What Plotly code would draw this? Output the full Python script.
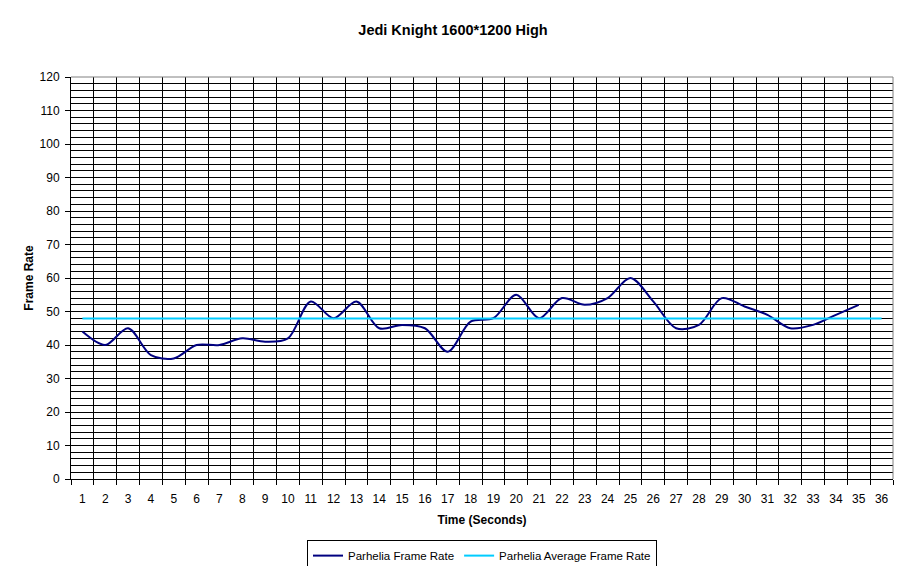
import plotly.graph_objects as go

seconds = list(range(1, 37))
tick_labels = [str(s) for s in seconds]
frame_rate = [44, 40, 45, 37, 36, 40, 40, 42, 41, 42, 53, 48, 53, 45, 46, 45, 38, 47, 48, 55,
              48, 54, 52, 54, 60, 53, 45, 46, 54, 51.5, 49, 45, 46, 49, 52]
average_rate = [47.9] * 36

FONT = "Liberation Sans, Arial, sans-serif"
W, H = 890, 558  # page body adds an 8px margin

fig = go.Figure()
fig.add_trace(go.Scatter(
    x=seconds[:len(frame_rate)], y=frame_rate, mode="lines",
    name="Parhelia Frame Rate",
    line=dict(color="#000080", width=2, shape="spline", smoothing=0.9),
))
fig.add_trace(go.Scatter(
    x=seconds, y=average_rate, mode="lines",
    name="Parhelia Average Frame Rate",
    line=dict(color="#00CCFF", width=2),
))

fig.update_layout(
    width=W, height=H,
    margin=dict(l=63, r=5, t=69, b=87, autoexpand=False),
    paper_bgcolor="white", plot_bgcolor="white",
    font=dict(family=FONT, size=12, color="black"),
    title=dict(text="<b>Jedi Knight 1600*1200 High</b>", x=0.5, xanchor="center",
               xref="container", y=1 - 22 / H, yanchor="middle", yref="container",
               font=dict(size=14.5, family=FONT), automargin=False),
    showlegend=True,
    legend=dict(orientation="h", x=0.5, xanchor="center", y=-0.152, yanchor="top",
                bordercolor="black", borderwidth=1, font=dict(size=11.5, family=FONT),
                itemwidth=30, tracegroupgap=0),
    xaxis=dict(
        range=[0.5, 36.5], tickmode="array", tickvals=seconds, ticktext=tick_labels,
        showgrid=False, ticks="", showline=True, linecolor="black", linewidth=1,
        zeroline=False, tickfont=dict(size=12), automargin=False, ticklabelstandoff=9,
        minor=dict(tick0=0.5, dtick=1, showgrid=True, gridcolor="black", gridwidth=1,
                   ticks="outside", ticklen=5, tickcolor="black"),
        title=dict(text="<b>Time (Seconds)</b>", font=dict(size=12), standoff=10),
    ),
    yaxis=dict(
        range=[0, 120], dtick=10, tick0=0, showgrid=True, gridcolor="black", gridwidth=1,
        ticks="outside", ticklen=5, tickcolor="black", showline=True, linecolor="black",
        linewidth=1, zeroline=False, tickfont=dict(size=12), automargin=False,
        ticklabelstandoff=3,
        minor=dict(dtick=2, showgrid=True, gridcolor="black", gridwidth=1),
        title=dict(text="<b>Frame Rate</b>", font=dict(size=12), standoff=3),
    ),
    shapes=[
        dict(type="line", xref="x domain", yref="y domain", x0=0, x1=1, y0=1, y1=1,
             line=dict(color="#808080", width=1), layer="above"),
        dict(type="line", xref="x domain", yref="y domain", x0=1, x1=1, y0=0, y1=1,
             line=dict(color="#808080", width=1), layer="above"),
    ],
)

fig.write_html("out.html")
